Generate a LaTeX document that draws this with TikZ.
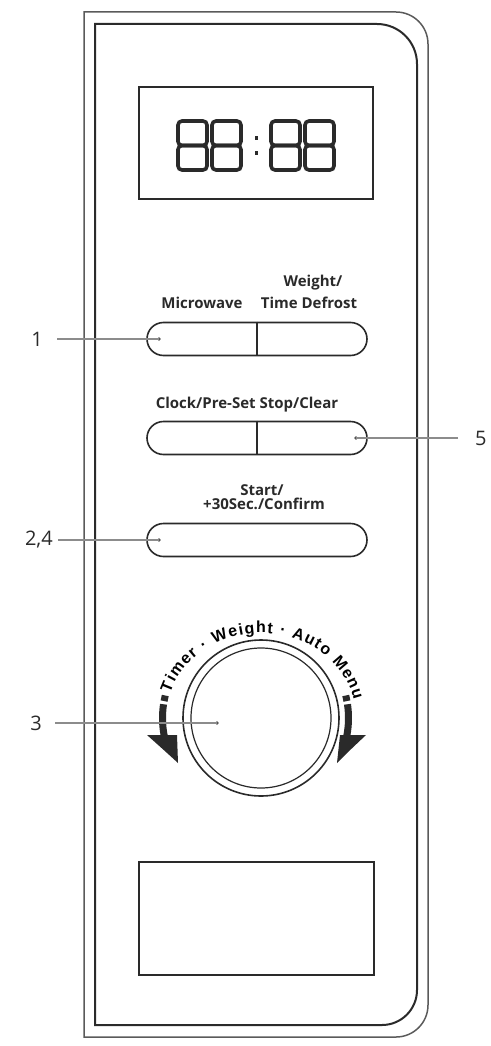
\documentclass[tikz,border=0pt]{standalone}
\usepackage{fontspec}
\setmainfont{Open Sans}
\newfontfamily\knobfont{Liberation Sans}
\usetikzlibrary{shapes.misc,decorations.text}
\definecolor{ink}{HTML}{2A2A2A}
\definecolor{frm}{HTML}{5A5A5A}
\definecolor{ptr}{HTML}{8C8C8C}
\tikzset{
  outerframe/.style={draw=frm, line width=1.5pt},
  innerframe/.style={draw=ink, line width=2pt},
  panelbox/.style={draw=ink, line width=1.5pt},
  btn/.style={rounded rectangle, draw=ink, line width=1.6pt, minimum width=220pt, minimum height=33pt, inner sep=0pt},
  btnlabel/.style={font=\bfseries\fontsize{15}{16}\selectfont, inner sep=0pt, text=ink},
  numlabel/.style={font=\fontsize{20}{22}\selectfont, inner sep=0pt, text=ink},
  pointer/.style={draw=ptr, line width=1.4pt},
  seg/.style={line width=3.6pt, draw=ink, rounded corners=4pt},
  dotmark/.style={circle, fill=ink!80, inner sep=0pt, minimum size=3.6pt},
  arrowbar/.style={draw=ink, line width=7pt}
}
\begin{document}
\begin{tikzpicture}[x=1pt,y=1pt]
\useasboundingbox (0,0) rectangle (490,-1046);
% frames
\draw[outerframe] (84,-12) -- (396,-12) arc[start angle=90,end angle=0,radius=32] -- (428,-1005) arc[start angle=0,end angle=-90,radius=32] -- (84,-1037) -- cycle;
\draw[innerframe] (95,-24) -- (377,-24) arc[start angle=90,end angle=0,radius=40] -- (417,-990) arc[start angle=0,end angle=-90,radius=35] -- (95,-1025) -- cycle;
% display
\node[panelbox, minimum width=234pt, minimum height=112pt, inner sep=0pt] (display) at (256,-143) {};
\foreach \x in {178,212,271,305}{
  \draw[seg] (\x,-121) rectangle (\x+29,-145.5);
  \draw[seg] (\x,-145.5) rectangle (\x+29,-170);
}
\fill[ink] (254.5,-135.5) rectangle (257.5,-139.5);
\fill[ink] (254.5,-150.5) rectangle (257.5,-154.5);
% button row 1
\node[btnlabel] (lw1) at (313,-283) {Weight/};
\node[btnlabel] (lmw) at (202,-303) {Microwave};
\node[btnlabel] (ltd) at (309,-303) {Time Defrost};
\node[btn] (b1) at (257,-339) {};
\draw[ink, line width=1.4pt] (b1.north) -- (b1.south);
\node[dotmark] (d1) at (159,-339) {};
% button row 2
\node[btnlabel] (lcs) at (247,-405) {Clock/Pre-Set Stop/Clear};
\node[btn] (b2) at (257,-438) {};
\draw[ink, line width=1.4pt] (b2.north) -- (b2.south);
\node[dotmark] (d5) at (356,-438) {};
% button row 3
\node[btnlabel] (lst) at (262,-490) {Start/};
\node[btnlabel] (lsc) at (264,-504) {+30Sec./Confirm};
\node[btn] (b3) at (257,-540) {};
\node[dotmark] (d24) at (159,-540) {};
% knob
\node[circle, draw=ink, line width=1.6pt, minimum size=156pt, inner sep=0pt] (knob) at (261,-718) {};
\node[circle, draw=ink, line width=1.2pt, minimum size=140pt, inner sep=0pt] (knobin) at (261,-718) {};
\node[dotmark] (d3) at (217,-723) {};
\path[decorate, decoration={text along path, text={|\knobfont\bfseries\fontsize{16}{17}\selectfont|Timer · Weight · Auto Menu}, text align={fit to path}}]
  (261,-718) ++(163:95 and 85) arc[start angle=163, end angle=12, x radius=95, y radius=85];
% arrows
\draw[arrowbar] (255.5,-718) ++(166:93) arc[start angle=166, end angle=169.5, radius=93];
\draw[arrowbar] (255.5,-718) ++(171.5:93) arc[start angle=171.5, end angle=191, radius=93];
\fill[ink] (147,-735) -- (177,-735) -- (178,-763) .. controls (166,-752) .. (147,-735) -- cycle;
\draw[arrowbar] (255.5,-718) ++(14:93) arc[start angle=14, end angle=10.5, radius=93];
\draw[arrowbar] (255.5,-718) ++(8.5:93) arc[start angle=8.5, end angle=-11, radius=93];
\fill[ink] (366,-735) -- (340,-735) -- (337,-763) .. controls (348,-752) .. (366,-735) -- cycle;
% bottom panel
\node[panelbox, minimum width=235pt, minimum height=113pt, inner sep=0pt] (lower) at (256.5,-918.5) {};
% callouts
\node[numlabel, anchor=east] (n1) at (43,-339) {1};
\draw[pointer, shorten <=14pt] (n1.east) -- (d1.center);
\node[numlabel, anchor=west] (n5) at (475,-438) {5};
\draw[pointer, shorten <=17pt] (n5.west) -- (d5.center);
\node[numlabel, anchor=east] (n24) at (53,-540) {2,4};
\draw[pointer, shorten <=5pt] (n24.east) -- (d24.center);
\node[numlabel, anchor=east] (n3) at (42,-723) {3};
\draw[pointer, shorten <=13pt] (n3.east) -- (d3.center);
\end{tikzpicture}
\end{document}
